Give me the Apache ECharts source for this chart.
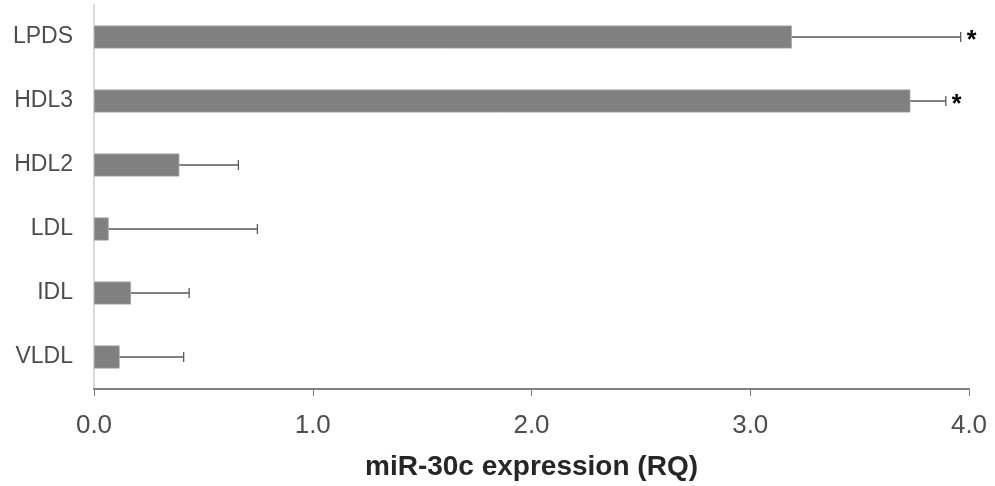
<!DOCTYPE html>
<html>
<head>
<meta charset="utf-8">
<script src="https://cdn.jsdelivr.net/npm/echarts@6/dist/echarts.min.js"></script>
<style>html,body{margin:0;padding:0;background:#fff}#c{width:995px;height:486px}</style>
</head>
<body>
<div id="c"></div>
<script>
var categories = ['VLDL', 'IDL', 'LDL', 'HDL2', 'HDL3', 'LPDS'];
var meanValues = [0.117, 0.169, 0.067, 0.39, 3.732, 3.19];
var errorUpper = [0.41, 0.435, 0.747, 0.66, 3.894, 3.962];
var significance = ['', '', '', '', '*', '*'];
var xTicks = [0, 1, 2, 3, 4];

var chart = echarts.init(document.getElementById('c'));
var errData = categories.map(function (c, i) { return [i, meanValues[i], errorUpper[i], significance[i]]; });

chart.setOption({
  animation: false,
  grid: { left: 94, right: 26, top: 5, bottom: 96 },
  xAxis: {
    type: 'value', min: 0, max: 4, interval: 1,
    name: 'miR-30c expression (RQ)', nameLocation: 'middle', nameGap: 64,
    nameTextStyle: { fontFamily: 'Liberation Sans', fontSize: 28, fontWeight: 'bold', color: '#262626' },
    axisLine: { show: true, lineStyle: { color: '#808080', width: 2 } },
    axisTick: { show: true, length: 7, lineStyle: { color: '#808080', width: 1 } },
    axisLabel: { fontFamily: 'Liberation Sans', fontSize: 26, color: '#4d4d4d', margin: 24,
      formatter: function (v) { return v.toFixed(1); } },
    splitLine: { show: false }
  },
  yAxis: {
    type: 'category', data: categories,
    axisLine: { show: true, lineStyle: { color: '#d9d9d9', width: 2 } },
    axisTick: { show: false },
    axisLabel: { fontFamily: 'Liberation Sans', fontSize: 23, color: '#4d4d4d', margin: 21 }
  },
  series: [
    {
      type: 'bar', data: meanValues, barCategoryGap: '64%',
      itemStyle: { color: '#808080', borderColor: '#a0a0a0', borderWidth: 0.8 }
    },
    {
      type: 'custom', data: errData, z: 10,
      encode: { y: 0, x: [1, 2] },
      renderItem: function (params, api) {
        var i = api.value(0);
        var p1 = api.coord([api.value(1), i]);
        var p2 = api.coord([api.value(2), i]);
        var cap = 5;
        var children = [
          { type: 'line', shape: { x1: p1[0], y1: p1[1], x2: p2[0], y2: p2[1] }, style: { stroke: '#595959', lineWidth: 1.3 } },
          { type: 'line', shape: { x1: p2[0], y1: p2[1] - cap, x2: p2[0], y2: p2[1] + cap }, style: { stroke: '#595959', lineWidth: 1.3 } }
        ];
        var s = api.value(3);
        if (s) {
          children.push({ type: 'text', style: { text: s, x: p2[0] + 6, y: p2[1] + 4, fill: '#000', font: 'bold 25px Liberation Sans', verticalAlign: 'middle' } });
        }
        return { type: 'group', children: children };
      }
    }
  ]
});
</script>
</body>
</html>
